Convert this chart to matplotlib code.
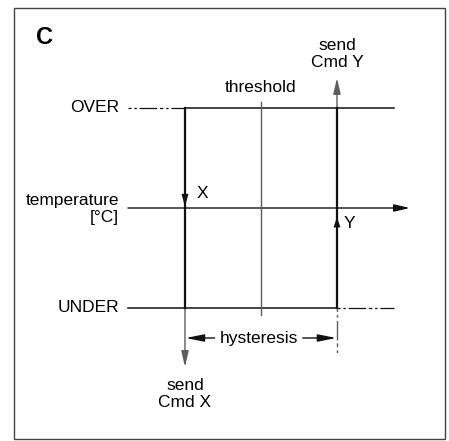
import matplotlib
matplotlib.use('Agg')
import matplotlib.pyplot as plt
from matplotlib.patches import FancyArrowPatch, Rectangle

plt.rcParams['font.family'] = ['Liberation Sans', 'DejaVu Sans']

# schematic values: switching points on the temperature axis, output levels
x_cmd_x = 0.0        # falling edge, send Cmd X
x_threshold = 1.0
x_cmd_y = 2.0        # rising edge, send Cmd Y
level_over = 1.0
level_under = -1.0
level_axis = 0.0

level_labels = ['OVER', 'UNDER']
level_values = [level_over, level_under]
axis_label = 'temperature\n[°C]'
cmd_labels = ['send\nCmd X', 'send\nCmd Y']
panel_label = 'C'

fs = 12.5

fig = plt.figure(figsize=(4.49, 4.41), dpi=100)
ax = fig.add_axes([0, 0, 1, 1])
ax.set_xlim(-2.434, 3.474)
ax.set_ylim(-2.33, 2.08)
ax.axis('off')

black = '#111111'
grey = '#5e5e5e'
dashdot = (16.5, (14, 2.2, 2.8, 2.2, 2, 2.2))

ax.add_patch(Rectangle((-2.25, -2.31), 5.67, 4.315, transform=ax.transData,
                       fill=False, ec='#444444', lw=1.0))

left = -0.75
right = 2.75

# OVER level
ax.plot([left, x_cmd_x], [level_over, level_over], color=black, lw=0.9, ls=dashdot)
ax.plot([x_cmd_x, right], [level_over, level_over], color=black, lw=1.1)
# UNDER level
ax.plot([left, x_cmd_y], [level_under, level_under], color=black, lw=1.1)
ax.plot([x_cmd_y, right], [level_under, level_under], color=black, lw=0.9, ls=dashdot)

# threshold
ax.plot([x_threshold, x_threshold], [1.06, -1.07], color=grey, lw=1.0)

def arrow(p0, p1, color=black, lw=1.0, hl=0.95, hw=0.22):
    a = FancyArrowPatch(p0, p1, arrowstyle=f'-|>,head_length={hl},head_width={hw}',
                        mutation_scale=10, color=color, lw=lw, shrinkA=0, shrinkB=0)
    ax.add_patch(a)

# temperature axis
arrow((left, level_axis), (2.96, level_axis), lw=1.0)

# switching edges
ax.plot([x_cmd_x, x_cmd_x], [level_over, level_under], color=black, lw=1.6)
ax.plot([x_cmd_y, x_cmd_y], [level_under, level_over], color=black, lw=1.6)
arrow((x_cmd_x, level_under), (x_cmd_x, -1.59), color=grey, lw=1.0)
arrow((x_cmd_y, level_over), (x_cmd_y, 1.30), color=grey, lw=1.0)
arrow((x_cmd_x, 0.16), (x_cmd_x, 0.01), lw=0, hw=0.25)
arrow((x_cmd_y, -0.20), (x_cmd_y, -0.09), lw=0, hl=0.75, hw=0.25)

# hysteresis
ax.plot([x_cmd_y, x_cmd_y], [level_under, -1.45], color=grey, lw=1.0, ls=dashdot)
arrow((0.39, -1.30), (x_cmd_x + 0.01, -1.30), lw=1.0, hl=1.1, hw=0.22)
arrow((1.55, -1.30), (x_cmd_y - 0.01, -1.30), lw=1.0, hl=1.1, hw=0.22)
ax.text((x_cmd_x + x_cmd_y) / 2 - 0.03, -1.31, 'hysteresis', ha='center', va='center', fontsize=fs)

# labels
for lab, val in zip(level_labels, level_values):
    ax.text(-0.87, val, lab, ha='right', va='center', fontsize=fs)
ax.text(-0.87, level_axis - 0.01, axis_label, ha='right', va='center', fontsize=fs,
        multialignment='right', linespacing=1.15)
ax.text(x_threshold, 1.20, 'threshold', ha='center', va='center', fontsize=fs)
ax.text(x_cmd_y, 1.54, cmd_labels[1], ha='center', va='center', fontsize=fs, linespacing=1.15)
ax.text(x_cmd_x, -1.86, cmd_labels[0], ha='center', va='center', fontsize=fs, linespacing=1.15)
ax.text(0.15, 0.14, 'X', ha='left', va='center', fontsize=fs)
ax.text(2.09, -0.15, 'Y', ha='left', va='center', fontsize=fs)
ax.text(-1.855, 1.70, panel_label, ha='center', va='center', fontsize=17, fontweight='bold')

fig.savefig('out.png', dpi=100)
